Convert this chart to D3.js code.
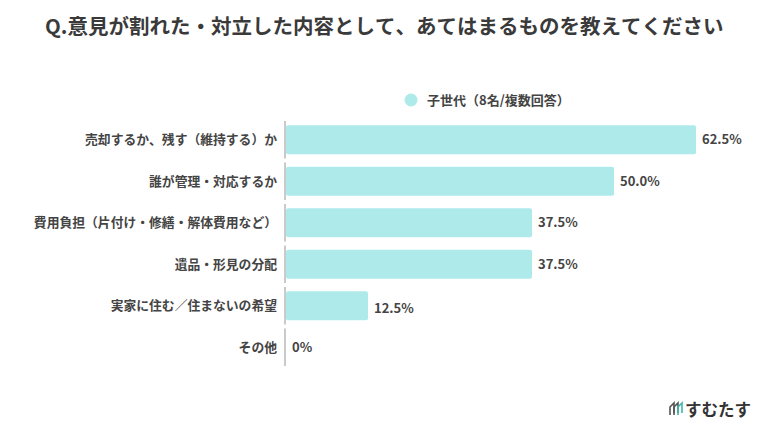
<!DOCTYPE html>
<html>
<head>
<meta charset="utf-8">
<script src="https://cdn.jsdelivr.net/npm/d3@7"></script>
<style>
  body { margin: 0; background: #fff; }
  svg { display: block; font-family: "Noto Sans CJK JP", "Noto Sans", sans-serif; }
  svg text { text-spacing-trim: space-all; font-kerning: none; font-feature-settings: "chws" 0, "halt" 0, "palt" 0; }
</style>
</head>
<body>
<svg id="chart" width="770" height="434"></svg>
<script>
const categories = [
  "売却するか、残す（維持する）か",
  "誰が管理・対応するか",
  "費用負担（片付け・修繕・解体費用など）",
  "遺品・形見の分配",
  "実家に住む／住まないの希望",
  "その他"
];
const values = [62.5, 50.0, 37.5, 37.5, 12.5, 0];
const valueLabels = ["62.5%", "50.0%", "37.5%", "37.5%", "12.5%", "0%"];
const seriesName = "子世代（8名/複数回答）";
const title = "Q.意見が割れた・対立した内容として、あてはまるものを教えてください";

const svg = d3.select("#chart");
const barColor = "#afeaea";
const textColor = "#444";

svg.append("text")
  .attr("x", 45)
  .attr("y", 34)
  .attr("fill", "#3a3a3a")
  .style("font-size", "20.5px")
  .style("font-weight", 700)
  .text(title);

// legend
svg.append("circle")
  .attr("cx", 411)
  .attr("cy", 100)
  .attr("r", 6.5)
  .attr("fill", barColor);
svg.append("text")
  .attr("x", 427)
  .attr("y", 104.5)
  .attr("fill", textColor)
  .style("font-size", "13px")
  .style("font-weight", 700)
  .text(seriesName);

const x = d3.scaleLinear()
  .domain([0, 62.5])
  .range([286, 696]);

const y = d3.scaleBand()
  .domain(categories)
  .range([119, 368])
  .paddingInner(0.3)
  .paddingOuter(0.15);

const step = y.step();

// segmented axis line, one piece per row
svg.append("g")
  .selectAll("line")
  .data(categories)
  .join("line")
  .attr("x1", 285)
  .attr("x2", 285)
  .attr("y1", d => y(d) + y.bandwidth() / 2 - step / 2 + 2)
  .attr("y2", d => y(d) + y.bandwidth() / 2 + step / 2 - 2)
  .attr("stroke", "#b8b8b8")
  .attr("stroke-width", 1.5);

svg.append("g")
  .selectAll("rect")
  .data(values)
  .join("rect")
  .attr("x", x(0))
  .attr("y", (d, i) => y(categories[i]))
  .attr("width", d => x(d) - x(0))
  .attr("height", y.bandwidth())
  .attr("rx", 2)
  .attr("fill", barColor);

svg.append("g")
  .selectAll("text")
  .data(categories)
  .join("text")
  .attr("x", 277)
  .attr("y", d => y(d) + y.bandwidth() / 2)
  .attr("dy", "0.35em")
  .attr("text-anchor", "end")
  .attr("fill", textColor)
  .style("font-size", "12.8px")
  .style("font-weight", 700)
  .text(d => d);

svg.append("g")
  .selectAll("text")
  .data(values)
  .join("text")
  .attr("x", d => x(d) + 6)
  .attr("y", (d, i) => y(categories[i]) + y.bandwidth() / 2 + (d > 0 && d < 20 ? 3 : 0))
  .attr("dy", "0.35em")
  .attr("fill", textColor)
  .style("font-size", "13px")
  .style("font-weight", 700)
  .text((d, i) => valueLabels[i]);

// logo
const logo = svg.append("g").attr("transform", "translate(670,401)");
[[0, "#555"], [4, "#555"], [8, "#3fb9a8"]].forEach(([dx, c]) => {
  logo.append("path")
    .attr("d", `M${dx},14 L${dx},6 L${dx + 4},2 L${dx + 4},12`)
    .attr("fill", "none")
    .attr("stroke", c)
    .attr("stroke-width", 1.6);
});
svg.append("text")
  .attr("x", 685)
  .attr("y", 415.5)
  .attr("fill", "#333")
  .style("font-size", "16.5px")
  .style("font-weight", 700)
  .text("すむたす");
</script>
</body>
</html>
